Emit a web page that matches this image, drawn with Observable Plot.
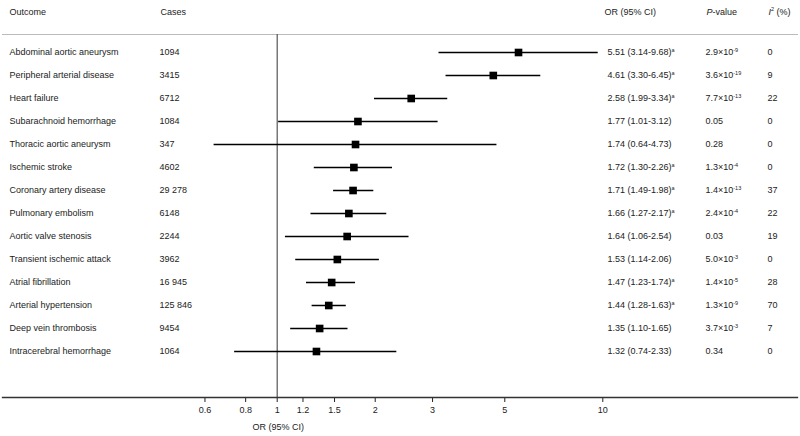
<!DOCTYPE html>
<html>
<head>
<meta charset="utf-8">
<script src="https://cdn.jsdelivr.net/npm/d3@7"></script>
<script src="https://cdn.jsdelivr.net/npm/@observablehq/plot@0.6"></script>
<style>
  html, body { margin: 0; padding: 0; background: #fff; }
  svg { font-family: "Liberation Sans", Arial, sans-serif; }
</style>
</head>
<body>
<div id="chart"></div>
<script>
const outcomes = [
  "Abdominal aortic aneurysm", "Peripheral arterial disease", "Heart failure",
  "Subarachnoid hemorrhage", "Thoracic aortic aneurysm", "Ischemic stroke",
  "Coronary artery disease", "Pulmonary embolism", "Aortic valve stenosis",
  "Transient ischemic attack", "Atrial fibrillation", "Arterial hypertension",
  "Deep vein thrombosis", "Intracerebral hemorrhage"
];
const cases = [1094, 3415, 6712, 1084, 347, 4602, 29278, 6148, 2244, 3962, 16945, 125846, 9454, 1064];
const orValues = [5.51, 4.61, 2.58, 1.77, 1.74, 1.72, 1.71, 1.66, 1.64, 1.53, 1.47, 1.44, 1.35, 1.32];
const ciLow = [3.14, 3.30, 1.99, 1.01, 0.64, 1.30, 1.49, 1.27, 1.06, 1.14, 1.23, 1.28, 1.10, 0.74];
const ciHigh = [9.68, 6.45, 3.34, 3.12, 4.73, 2.26, 1.98, 2.17, 2.54, 2.06, 1.74, 1.63, 1.65, 2.33];
const significant = [true, true, true, false, false, true, true, true, false, false, true, true, false, false];
const pValues = ["2.9e-9", "3.6e-19", "7.7e-13", "0.05", "0.28", "1.3e-4", "1.4e-13", "2.4e-4", "0.03", "5.0e-3", "1.4e-5", "1.3e-9", "3.7e-3", "0.34"];
const i2Values = [0, 9, 22, 0, 0, 0, 37, 22, 19, 0, 28, 70, 7, 0];
const xTicks = [0.6, 0.8, 1, 1.2, 1.5, 2, 3, 5, 10];
const headers = ["Outcome", "Cases", "OR (95% CI)", "~P~-value", "~I~^2^ (%)"];
const axisLabel = "OR (95% CI)";

const fmtCases = n => n >= 10000 ? d3.format(",")(n).replace(/,/g, " ") : String(n);
const fmtP = s => {
  if (!s.includes("e")) return s;
  const [m, e] = s.split("e");
  return `${m}×10^${e}^`;
};

const rows = outcomes.map((name, i) => ({
  name,
  cases: fmtCases(cases[i]),
  or: orValues[i],
  lo: ciLow[i],
  hi: ciHigh[i],
  orText: `${orValues[i].toFixed(2)} (${ciLow[i].toFixed(2)}-${ciHigh[i].toFixed(2)})` + (significant[i] ? "^a^" : ""),
  p: fmtP(pValues[i]),
  i2: String(i2Values[i])
}));

const colDx = [7, 157, 605, 703, 765];
const headerDx = [7, 158, 602, 704, 766];
const textStyle = {fontSize: 9, fill: "#222", textAnchor: "start", frameAnchor: "left"};

const marks = [
  Plot.frame({anchor: "top", stroke: "#bbb", strokeWidth: 1}),
  Plot.ruleX([1], {stroke: "#555", strokeWidth: 1.2}),
  Plot.ruleY(rows, {y: "name", x1: "lo", x2: "hi", stroke: "#000", strokeWidth: 1.3}),
  Plot.dot(rows, {x: "or", y: "name", symbol: "square", r: 4.3, fill: "#000", stroke: "none"}),
  Plot.text(rows, {...textStyle, y: "name", text: "name", dx: colDx[0]}),
  Plot.text(rows, {...textStyle, y: "name", text: "cases", dx: colDx[1]}),
  Plot.text(rows, {...textStyle, y: "name", text: "orText", dx: colDx[2]}),
  Plot.text(rows, {...textStyle, y: "name", text: "p", dx: colDx[3]}),
  Plot.text(rows, {...textStyle, y: "name", text: "i2", dx: colDx[4]}),
  ...headers.map((h, k) => Plot.text([h], {fontSize: 9, fill: "#222", textAnchor: "start", frameAnchor: "top-left", dx: headerDx[k], dy: -26})),
  Plot.axisX({ticks: xTicks, tickFormat: d => String(d), tickSize: 5, tickPadding: 4, fontSize: 9, label: null, anchor: "bottom", color: "#222"}),
  Plot.frame({anchor: "bottom", stroke: "#333", strokeWidth: 1.3}),
  Plot.text([{label: axisLabel, at: 1}], {x: "at", text: "label", frameAnchor: "bottom", dy: 32, dx: 1, fontSize: 9, fill: "#222"})
];

const chart = Plot.plot({
  width: 800,
  height: 436,
  marginTop: 34,
  marginBottom: 39,
  marginLeft: 2,
  marginRight: 3,
  x: {type: "log", domain: [1, 10], range: [276.7, 602.3]},
  y: {type: "point", domain: outcomes, range: [51.5, 350.7], padding: 0, axis: null},
  style: {fontFamily: "'Liberation Sans', Arial, sans-serif", background: "#fff"},
  marks
});

// rich text: ^sup^ and ~italic~
d3.select(chart).selectAll("text").each(function () {
  const t = this.textContent;
  if (!/[\^~]/.test(t)) return;
  const parts = t.split(/(\^[^\^]*\^|~[^~]*~)/).filter(s => s.length);
  this.textContent = "";
  const el = d3.select(this);
  let raised = false;
  for (const p of parts) {
    const ts = el.append("tspan");
    if (p.startsWith("^")) {
      ts.text(p.slice(1, -1)).attr("font-size", 5.5).attr("dy", raised ? null : -3.5);
      raised = true;
    } else {
      if (raised) { ts.attr("dy", 3.5); raised = false; }
      if (p.startsWith("~")) ts.text(p.slice(1, -1)).attr("font-style", "italic");
      else ts.text(p);
    }
  }
});

document.getElementById("chart").appendChild(chart);
</script>
</body>
</html>
